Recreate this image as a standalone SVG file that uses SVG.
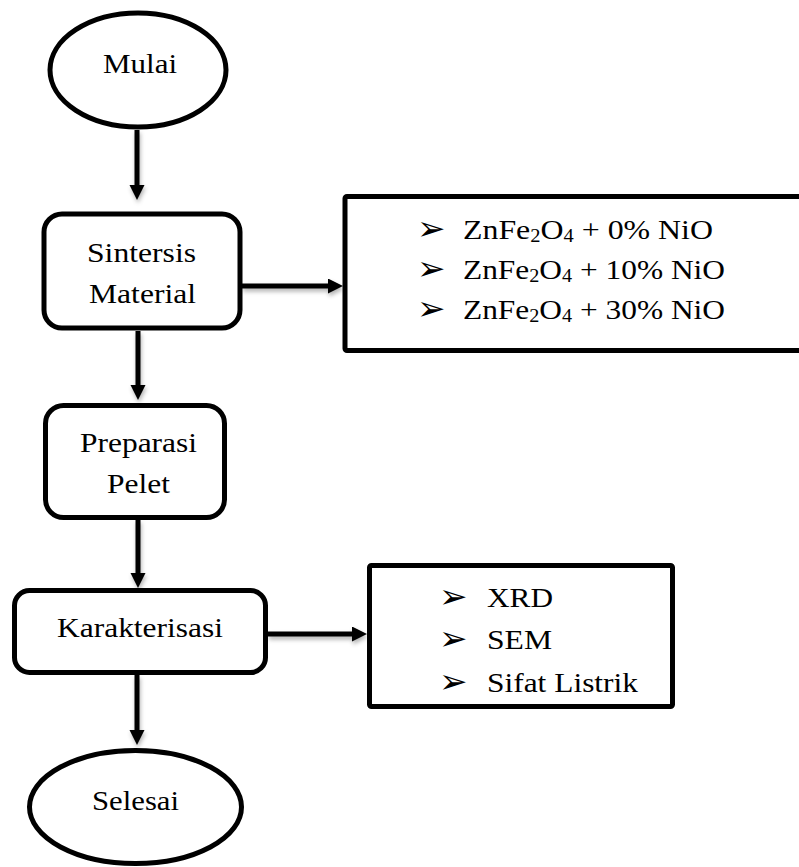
<svg xmlns="http://www.w3.org/2000/svg" width="799" height="867" viewBox="0 0 799 867">
  <style>
    .shape { fill: #ffffff; stroke: #000000; stroke-width: 5; }
    .lbl { font-family: 'Liberation Serif', 'Times New Roman', Times, serif; font-size: 28px; fill: #000000; }
    .mid { text-anchor: middle; }
    .bul { font-family: 'DejaVu Sans', sans-serif; font-size: 34px; fill: #000000; }
    .sub { font-size: 18px; }
    .conn { fill: none; stroke: #000000; stroke-width: 5; marker-end: url(#ah); }
  </style>
  <defs>
    <marker id="ah" markerUnits="userSpaceOnUse" markerWidth="16" markerHeight="16" refX="3" refY="7.5" orient="auto">
      <path d="M0,0 L15,7.5 L0,15 Z" fill="#000000"/>
    </marker>
    <filter id="sh" x="-20%" y="-20%" width="140%" height="160%">
      <feDropShadow dx="1" dy="3" stdDeviation="2" flood-color="#000000" flood-opacity="0.3"/>
    </filter>
  </defs>
  <rect x="0" y="0" width="799" height="867" fill="#ffffff"/>

  <g id="connectors" filter="url(#sh)">
    <path class="conn" d="M137,130 L137,188"/>
    <path class="conn" d="M138,331 L138,388"/>
    <path class="conn" d="M138,520 L138,576"/>
    <path class="conn" d="M137,675 L137,733"/>
    <path class="conn" d="M242,286 L331,286"/>
    <path class="conn" d="M268,634 L355,634"/>
  </g>

  <g id="mulai">
    <ellipse class="shape" cx="138" cy="70" rx="88" ry="57"/>
    <text class="lbl mid" font-family="Liberation Serif, serif" x="140" y="73" textLength="74" lengthAdjust="spacingAndGlyphs">Mulai</text>
  </g>

  <g id="sintesis">
    <rect class="shape" x="44" y="214" width="196" height="114" rx="18" ry="18"/>
    <text class="lbl mid" font-family="Liberation Serif, serif" x="141.5" y="262" textLength="109" lengthAdjust="spacingAndGlyphs">Sintersis</text>
    <text class="lbl mid" font-family="Liberation Serif, serif" x="142.5" y="303" textLength="107" lengthAdjust="spacingAndGlyphs">Material</text>
  </g>

  <g id="variasi">
    <rect class="shape" x="345" y="196.5" width="470" height="154" rx="2" ry="2"/>
    <text class="bul" x="417" y="240">➢</text>
    <text class="lbl" font-family="Liberation Serif, serif" x="463" y="239" textLength="250" lengthAdjust="spacingAndGlyphs">ZnFe<tspan class="sub" dy="3">2</tspan><tspan dy="-3">O</tspan><tspan class="sub" dy="3">4</tspan><tspan dy="-3"> + 0% NiO</tspan></text>
    <text class="bul" x="417" y="280">➢</text>
    <text class="lbl" font-family="Liberation Serif, serif" x="463" y="279" textLength="262" lengthAdjust="spacingAndGlyphs">ZnFe<tspan class="sub" dy="3">2</tspan><tspan dy="-3">O</tspan><tspan class="sub" dy="3">4</tspan><tspan dy="-3"> + 10% NiO</tspan></text>
    <text class="bul" x="417" y="320">➢</text>
    <text class="lbl" font-family="Liberation Serif, serif" x="463" y="319" textLength="262" lengthAdjust="spacingAndGlyphs">ZnFe<tspan class="sub" dy="3">2</tspan><tspan dy="-3">O</tspan><tspan class="sub" dy="3">4</tspan><tspan dy="-3"> + 30% NiO</tspan></text>
  </g>

  <g id="preparasi">
    <rect class="shape" x="45.5" y="405.5" width="179" height="112" rx="18" ry="18"/>
    <text class="lbl mid" font-family="Liberation Serif, serif" x="138.5" y="452" textLength="117" lengthAdjust="spacingAndGlyphs">Preparasi</text>
    <text class="lbl mid" font-family="Liberation Serif, serif" x="138.5" y="493" textLength="63" lengthAdjust="spacingAndGlyphs">Pelet</text>
  </g>

  <g id="karakterisasi">
    <rect class="shape" x="14.5" y="590.5" width="251" height="82" rx="15" ry="15"/>
    <text class="lbl mid" font-family="Liberation Serif, serif" x="140" y="637" textLength="166" lengthAdjust="spacingAndGlyphs">Karakterisasi</text>
  </g>

  <g id="uji">
    <rect class="shape" x="369.5" y="565.5" width="303" height="141" rx="2" ry="2"/>
    <text class="bul" x="439" y="608">➢</text>
    <text class="lbl" font-family="Liberation Serif, serif" x="487" y="607" textLength="66" lengthAdjust="spacingAndGlyphs">XRD</text>
    <text class="bul" x="439" y="650">➢</text>
    <text class="lbl" font-family="Liberation Serif, serif" x="487" y="649" textLength="65" lengthAdjust="spacingAndGlyphs">SEM</text>
    <text class="bul" x="439" y="693">➢</text>
    <text class="lbl" font-family="Liberation Serif, serif" x="487" y="692" textLength="151" lengthAdjust="spacingAndGlyphs">Sifat Listrik</text>
  </g>

  <g id="selesai">
    <ellipse class="shape" cx="135.5" cy="807" rx="106" ry="56.5"/>
    <text class="lbl mid" font-family="Liberation Serif, serif" x="135.5" y="810" textLength="87" lengthAdjust="spacingAndGlyphs">Selesai</text>
  </g>
</svg>
